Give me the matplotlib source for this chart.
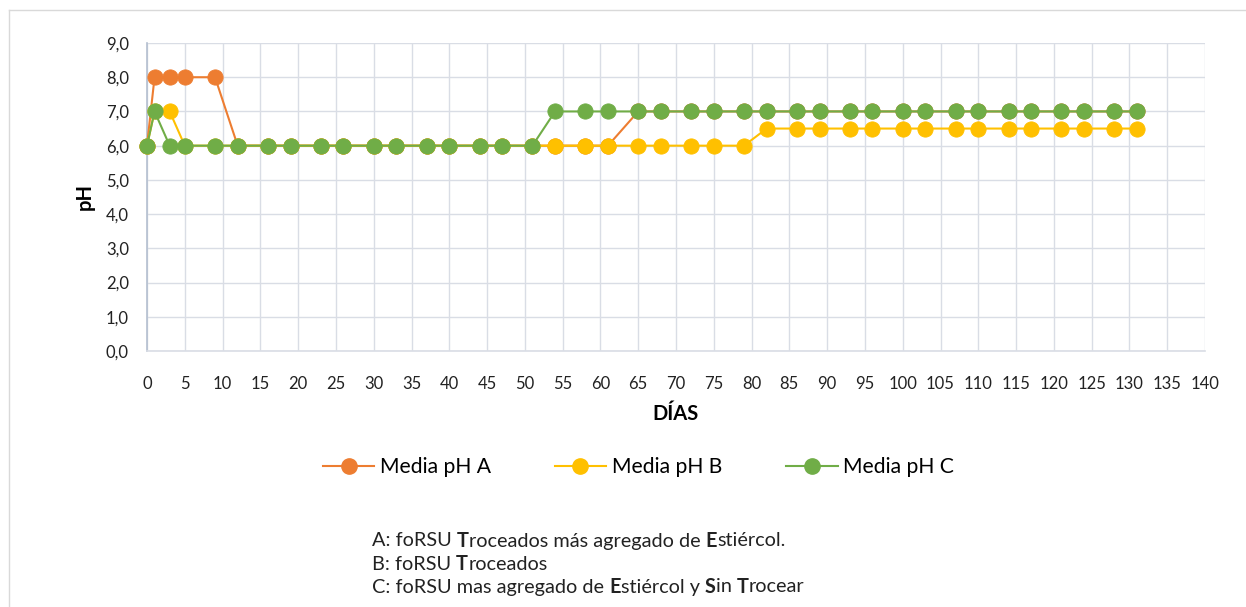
import matplotlib
matplotlib.use("Agg")
import matplotlib.pyplot as plt
from matplotlib.lines import Line2D
from matplotlib.ticker import FuncFormatter, MultipleLocator

days = [0, 1, 3, 5, 9, 12, 16, 19, 23, 26, 30, 33, 37, 40, 44, 47, 51, 54, 58, 61,
        65, 68, 72, 75, 79, 82, 86, 89, 93, 96, 100, 103, 107, 110, 114, 117, 121,
        124, 128, 131]
ph_a = [6, 8, 8, 8, 8, 6, 6, 6, 6, 6, 6, 6, 6, 6, 6, 6, 6, 6, 6, 6,
        7, 7, 7, 7, 7, 7, 7, 7, 7, 7, 7, 7, 7, 7, 7, 7, 7, 7, 7, 7]
ph_b = [6, 7, 7, 6, 6, 6, 6, 6, 6, 6, 6, 6, 6, 6, 6, 6, 6, 6, 6, 6,
        6, 6, 6, 6, 6, 6.5, 6.5, 6.5, 6.5, 6.5, 6.5, 6.5, 6.5, 6.5, 6.5, 6.5, 6.5,
        6.5, 6.5, 6.5]
ph_c = [6, 7, 6, 6, 6, 6, 6, 6, 6, 6, 6, 6, 6, 6, 6, 6, 6, 7, 7, 7,
        7, 7, 7, 7, 7, 7, 7, 7, 7, 7, 7, 7, 7, 7, 7, 7, 7, 7, 7, 7]
series_names = ["Media pH A", "Media pH B", "Media pH C"]
colors = ["#ED7D31", "#FFC000", "#70AD47"]
notes = [
    [("A: foRSU ", False), ("T", True), ("roceados más agregado de ", False), ("E", True), ("stiércol.", False)],
    [("B: foRSU ", False), ("T", True), ("roceados", False)],
    [("C: foRSU mas agregado de ", False), ("E", True), ("stiércol y ", False), ("S", True), ("in ", False), ("T", True), ("rocear", False)],
]

plt.rcParams['font.family'] = ['Lato', 'DejaVu Sans']

W, H = 1246, 607
fig = plt.figure(figsize=(W / 100, H / 100), dpi=100)
ax = fig.add_axes([147 / W, 1 - 351 / H, (1205 - 147) / W, (351 - 43) / H])

grid_c = "#D9DDE5"
for vals, col, name in zip([ph_a, ph_b, ph_c], colors, series_names):
    ax.plot(days, vals, color=col, lw=1.5, marker='o', markersize=11,
            markeredgewidth=0.6, markeredgecolor=col, label=name, zorder=3,
            clip_on=False)

ax.set_xlim(0, 140)
ax.set_ylim(0, 9)
ax.xaxis.set_major_locator(MultipleLocator(5))
ax.yaxis.set_major_locator(MultipleLocator(1))
ax.yaxis.set_major_formatter(FuncFormatter(lambda v, p: f"{v:.1f}".replace('.', ',')))
ax.grid(True, color=grid_c, lw=1.0)
ax.set_axisbelow(True)
for s in ['top', 'right']:
    ax.spines[s].set_visible(False)
ax.spines['left'].set_color("#B4BFD0")
ax.spines['left'].set_linewidth(1.2)
ax.spines['bottom'].set_color(grid_c)
ax.spines['bottom'].set_linewidth(1.2)
ax.tick_params(axis='both', length=0, labelsize=12, labelcolor="#222222")
ax.tick_params(axis='x', pad=18)
ax.tick_params(axis='y', pad=13)
ax.set_xlabel("DÍAS", fontsize=14.5, fontweight='bold', labelpad=9)
ax.set_ylabel("pH", fontsize=14.5, fontweight='bold', labelpad=8)

handles = [Line2D([0], [0], color=c, lw=1.5, marker='o', markersize=11,
                  markeredgecolor=c) for c in colors]
fig.legend(handles, series_names, loc='center', bbox_to_anchor=(638.5 / W, 1 - 467 / H),
           ncol=3, frameon=False, fontsize=15.2, handlelength=2.45, handletextpad=0.28,
           columnspacing=3.0)

# notes with bold initial letters, pieces placed one after another
fig.canvas.draw()
renderer = fig.canvas.get_renderer()
for i, line in enumerate(notes):
    y = 1 - (541 + 23 * i) / H
    x = 372 / W
    for txt, bold in line:
        t = fig.text(x, y, txt, fontsize=14.3, va='center', ha='left',
                     fontweight='bold' if bold else 'normal', color="#222222")
        bb = t.get_window_extent(renderer)
        x = bb.x1 / W

# outer frame lines (top & left)
fig.add_artist(Line2D([9 / W, 1], [1 - 10 / H, 1 - 10 / H], color="#D9D9D9", lw=1.0,
                      transform=fig.transFigure))
fig.add_artist(Line2D([9 / W, 9 / W], [0, 1 - 10 / H], color="#D9D9D9", lw=1.0,
                      transform=fig.transFigure))

fig.savefig("out.png", dpi=100, facecolor='white')
